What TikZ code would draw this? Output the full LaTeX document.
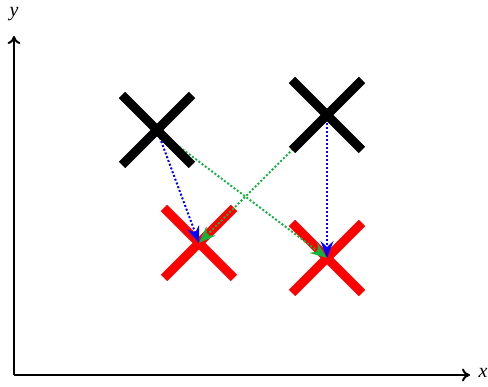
\documentclass[tikz,border=0pt]{standalone}
\usepackage{fontspec}
\setmainfont{Liberation Serif}
\usetikzlibrary{arrows.meta}
\definecolor{mygreen}{RGB}{20,180,60}
\begin{document}
\begin{tikzpicture}[x=1pt,y=-1pt,
  axis/.style={line width=2pt,-{To[length=8pt,width=13pt]}},
  lab/.style={font=\fontsize{20}{22}\selectfont\itshape},
  blackx/.style={line width=9pt,black},
  redx/.style={line width=9pt,red},
  movearrow/.style={line width=2pt,dash pattern=on 2pt off 2pt,-{Stealth[length=17pt,width=13pt,inset=6pt]}}]
\useasboundingbox (0,0) rectangle (488,387);
\coordinate (o) at (14,375);
\coordinate (ytop) at (14,36);
\coordinate (xend) at (470,375);
\draw[axis] (o) -- (ytop);
\draw[axis] (o) -- (xend);
\node[lab] (ylab) at (14,14) {y};
\node[lab] (xlab) at (483,373) {x};
\coordinate (b1) at (157,130);
\coordinate (b2) at (327,115);
\coordinate (r1) at (199,243);
\coordinate (r2) at (327,258);
\foreach \c in {r1,r2}{
  \draw[redx] ([shift={(-35,-35)}]\c) -- ([shift={(35,35)}]\c);
  \draw[redx] ([shift={(-35,35)}]\c) -- ([shift={(35,-35)}]\c);
}
\draw[movearrow,blue] (b1) -- (r1);
\draw[movearrow,blue] (b2) -- (r2);
\draw[movearrow,mygreen] (b1) -- (r2);
\draw[movearrow,mygreen] (b2) -- (r1);
\foreach \c in {b1,b2}{
  \draw[blackx] ([shift={(-35,-35)}]\c) -- ([shift={(35,35)}]\c);
  \draw[blackx] ([shift={(-35,35)}]\c) -- ([shift={(35,-35)}]\c);
}
\end{tikzpicture}
\end{document}
